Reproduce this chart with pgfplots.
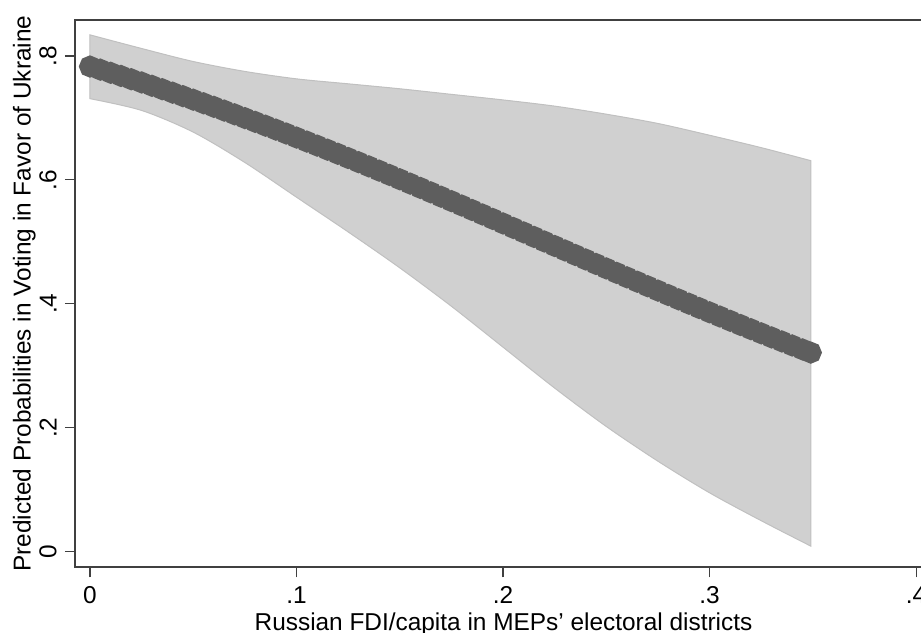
\documentclass[border=0pt]{standalone}
\usepackage{fontspec}
\setmainfont{Liberation Sans}
\usepackage{pgfplots}
\pgfplotsset{compat=1.18}
\usepgfplotslibrary{fillbetween}
\usepackage{pgfplotstable}
\definecolor{bandfill}{HTML}{D0D0D0}
\definecolor{bandedge}{HTML}{C0C0C0}
\definecolor{dotcol}{HTML}{5E5E5E}
\definecolor{axcol}{HTML}{404040}

\pgfplotstableread{
x      lo     hi
0.000  0.731  0.834
0.025  0.712  0.812
0.050  0.677  0.791
0.075  0.628  0.775
0.100  0.572  0.763
0.125  0.516  0.755
0.150  0.458  0.747
0.175  0.396  0.738
0.200  0.330  0.729
0.225  0.264  0.719
0.250  0.202  0.706
0.275  0.146  0.691
0.300  0.095  0.672
0.325  0.050  0.652
0.349  0.009  0.631
}\band

\pgfplotstableread{
x     p
0.000 0.7829
0.005 0.7779
0.010 0.7728
0.015 0.7677
0.020 0.7624
0.025 0.7572
0.030 0.7518
0.035 0.7463
0.040 0.7407
0.045 0.7351
0.050 0.7294
0.055 0.7236
0.060 0.7178
0.065 0.7118
0.070 0.7058
0.075 0.6997
0.080 0.6936
0.085 0.6874
0.090 0.6811
0.095 0.6748
0.100 0.6683
0.105 0.6618
0.110 0.6553
0.115 0.6487
0.120 0.6421
0.125 0.6353
0.130 0.6286
0.135 0.6218
0.140 0.6149
0.145 0.6080
0.150 0.6010
0.155 0.5940
0.160 0.5870
0.165 0.5799
0.170 0.5728
0.175 0.5657
0.180 0.5586
0.185 0.5514
0.190 0.5442
0.195 0.5370
0.200 0.5297
0.205 0.5224
0.210 0.5152
0.215 0.5079
0.220 0.5006
0.225 0.4933
0.230 0.4861
0.235 0.4788
0.240 0.4716
0.245 0.4643
0.250 0.4571
0.255 0.4499
0.260 0.4427
0.265 0.4356
0.270 0.4284
0.275 0.4213
0.280 0.4142
0.285 0.4072
0.290 0.4002
0.295 0.3932
0.300 0.3863
0.305 0.3795
0.310 0.3726
0.315 0.3658
0.320 0.3591
0.325 0.3524
0.330 0.3458
0.335 0.3393
0.340 0.3328
0.345 0.3264
0.349 0.3213
}\pred

\begin{document}
\begin{tikzpicture}[font=\fontsize{12.2pt}{14pt}\selectfont]
\begin{axis}[
  scale only axis, width=428.5pt, height=273.65pt,
  xmin=-0.00726, xmax=0.4077, ymin=-0.0252, ymax=0.858,
  axis line style={axcol, line width=0.9pt},
  xtick={0,0.1,0.2,0.3,0.4}, xticklabels={0,.1,.2,.3,.4},
  ytick={0,0.2,0.4,0.6,0.8}, yticklabels={0,.2,.4,.6,.8},
  tick align=outside, xtick pos=bottom, ytick pos=left,
  major tick length=5pt,
  tick style={axcol, line width=0.6pt},
  xticklabel style={anchor=north, inner sep=0pt},
  yticklabel style={rotate=90, anchor=south, inner sep=0pt},
  xticklabel shift=4.5pt,
  yticklabel shift=4pt,
  xlabel={Russian FDI/capita in MEPs{\char39} electoral districts},
  ylabel={Predicted Probabilities in Voting in Favor of Ukraine},
  xlabel style={at={(axis description cs:0.5,-0.11456)}, anchor=base, inner sep=0pt},
  ylabel style={at={(axis description cs:-0.0455,0.5)}, anchor=south, inner sep=0pt, rotate=0},
  clip=false,
]
\addplot[name path=up, draw=none, smooth] table[x=x, y=hi] {\band};
\addplot[name path=lo, draw=none, smooth] table[x=x, y=lo] {\band};
\addplot[fill=bandfill, draw=bandedge, line width=0.5pt] fill between[of=up and lo];
\addplot[dotcol, line width=5.2pt, line cap=round, mark=*, mark size=2.8pt,
  mark options={fill=dotcol, draw=none}] table[x=x, y=p] {\pred};
\end{axis}
\pgfresetboundingbox
\useasboundingbox (-37.5pt,-32.35pt) rectangle (423pt,283.65pt);
\end{tikzpicture}
\end{document}
